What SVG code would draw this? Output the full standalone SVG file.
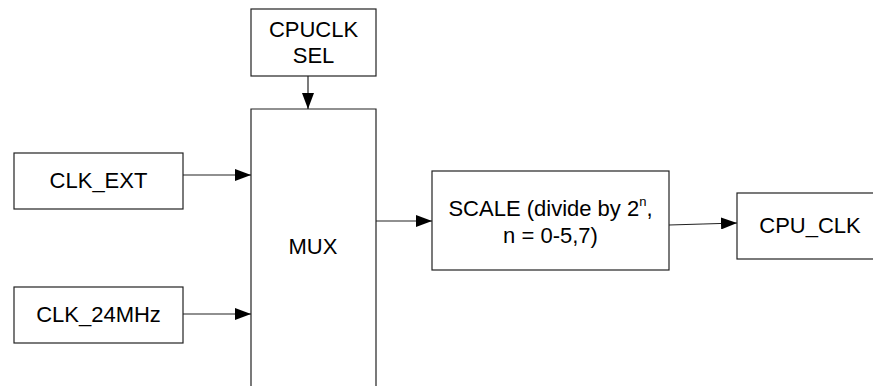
<svg xmlns="http://www.w3.org/2000/svg" width="873" height="386" viewBox="0 0 873 386">
<style>
.box{fill:#fff;stroke:#222;stroke-width:1.2}
.lbl{font-family:"Liberation Sans",Arial,sans-serif;font-size:22px;fill:#000;text-anchor:middle}
.wire{stroke:#222;stroke-width:1.2;fill:none;marker-end:url(#arr)}
</style>
<defs>
<marker id="arr" viewBox="0 0 16 12" refX="16" refY="6" markerWidth="16" markerHeight="12" markerUnits="userSpaceOnUse" orient="auto">
<path d="M0,0 L16,6 L0,12 Z" fill="#000"/>
</marker>
</defs>
<rect width="873" height="386" fill="#fff"/>
<g id="sel">
<rect class="box" x="251" y="9" width="125" height="67"/>
<text class="lbl" x="313.5" y="37">CPUCLK</text>
<text class="lbl" x="313.5" y="63">SEL</text>
</g>
<g id="mux">
<path class="box" d="M251,392 V109 H376 V392"/>
<text class="lbl" x="313" y="254">MUX</text>
</g>
<g id="clkext">
<rect class="box" x="14" y="153" width="169" height="56"/>
<text class="lbl" x="98.5" y="188">CLK_EXT</text>
</g>
<g id="clk24">
<rect class="box" x="14" y="287" width="169" height="56"/>
<text class="lbl" x="98.5" y="322">CLK_24MHz</text>
</g>
<g id="scale">
<rect class="box" x="432" y="171" width="237" height="99"/>
<text class="lbl" x="550.5" y="216">SCALE (divide by 2<tspan font-size="13" dy="-10">n</tspan><tspan dy="10">,</tspan></text>
<text class="lbl" x="550.5" y="243">n = 0-5,7)</text>
</g>
<g id="cpuclk">
<rect class="box" x="737" y="193" width="150" height="66"/>
<text class="lbl" x="810" y="233">CPU_CLK</text>
</g>
<g id="connectors">
<line class="wire" x1="308" y1="76" x2="308" y2="109"/>
<line class="wire" x1="183" y1="175" x2="251" y2="175"/>
<line class="wire" x1="183" y1="314" x2="251" y2="314"/>
<line class="wire" x1="376" y1="221" x2="432" y2="221"/>
<line class="wire" x1="669" y1="225" x2="737" y2="223"/>
</g>
</svg>
